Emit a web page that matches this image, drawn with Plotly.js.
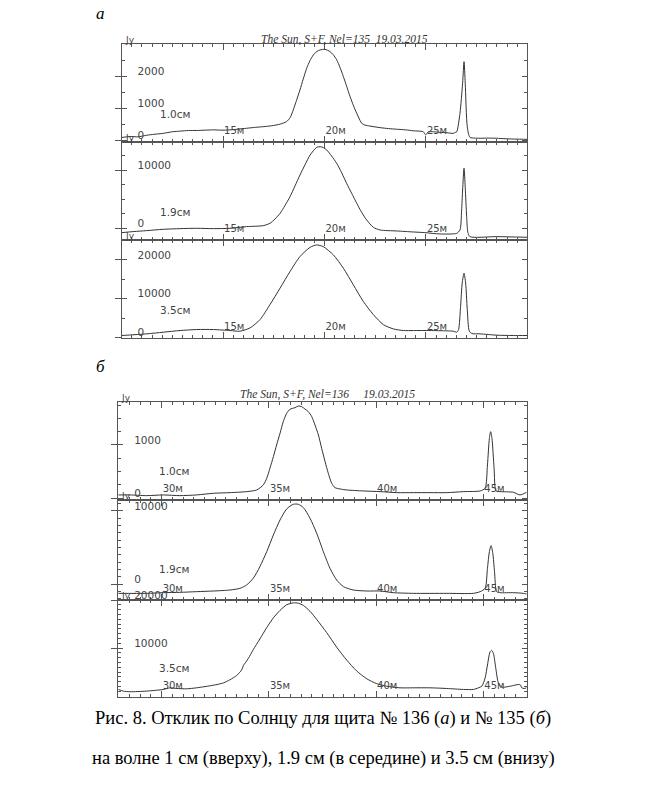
<!DOCTYPE html>
<html>
<head>
<meta charset="utf-8">
<script src="https://cdn.plot.ly/plotly-3.0.1.min.js"></script>
<style>html,body{margin:0;padding:0;background:#fff}</style>
</head>
<body>
<div id="graph" style="width:646px;height:796px"></div>
<script>
// time in minutes, flux in Jy
let TIME_A1 = [10.00,10.41,10.8,11.23,11.6,12.05,12.5,12.88,13.3,13.70,14.1,14.52,14.9,15.34,15.7,16.16,16.6,16.98,17.4,17.81,18.13,18.3,18.46,18.62,18.79,18.95,19.12,19.28,19.45,19.62,19.78,20.02,20.27,20.43,20.60,20.77,20.93,21.10,21.26,21.43,21.59,21.75,21.83,22.0,22.24,22.74,23.15,23.56,24.0,24.38,24.87,24.99,25.12,25.37,25.7,26.02,26.35,26.45,26.52,26.68,26.81,26.88,26.94,27.04,27.17,27.4,27.67,28.1,28.49,28.9,29.31,29.7,30.00]
let FLUX_A1 = [80,110,100,150,180,210,260,280,300,300,310,320,310,320,340,370,400,420,450,500,580,700,950,1250,1580,1920,2260,2500,2680,2790,2840,2860,2790,2690,2530,2280,2000,1680,1370,1080,840,620,530,470,440,390,360,340,320,290,260,160,260,260,240,230,210,240,260,840,1790,2470,1790,420,84,60,55,60,55,40,30,25,20]

let TIME_A2 = [10.00,10.6,11.23,12.05,12.88,13.70,14.52,15.34,16.16,16.98,17.31,17.56,17.81,18.05,18.30,18.55,18.79,19.04,19.29,19.61,19.78,19.94,20.11,20.35,20.60,20.85,21.09,21.34,21.59,21.83,22.08,22.41,22.74,23.56,24.38,24.95,25.69,26.52,26.68,26.76,26.81,26.88,26.94,27.01,27.07,27.17,28.49,30.00]
let FLUX_A2 = [-743,-560,-400,-171,-57,0,-57,0,286,457,857,1600,2571,3900,5429,7300,9143,10900,12571,13886,14000,13850,13429,12400,11143,9500,7714,6000,4286,2750,1429,171,-286,-457,-629,-743,-971,-857,-286,3000,6571,10286,7000,2000,-700,-1429,-1429,-1543]

let TIME_A3 = [10.00,11.23,12.05,12.88,13.70,14.52,15.34,15.83,16.33,16.82,17.31,17.81,18.30,18.79,19.29,19.61,19.94,20.44,20.93,21.42,21.91,22.41,22.90,23.39,23.89,24.38,25.20,26.02,26.35,26.52,26.61,26.71,26.79,26.88,26.96,27.04,27.14,27.26,27.67,28.49,29.31,30.00]
let FLUX_A3 = [513,940,1368,1795,2051,2051,1795,1624,2479,4615,8462,12735,17009,20855,23248,23846,23419,21282,17863,13590,9316,5897,3333,2222,1795,1795,1795,1709,1624,1368,2051,8034,14017,16581,14017,7179,1624,1026,940,598,513,513]

let TIME_B1 = [27.98,28.52,29.30,30.08,30.85,31.63,32.41,33.19,33.96,34.43,34.74,34.90,35.05,35.21,35.36,35.52,35.67,35.83,35.98,36.22,36.37,36.53,36.68,36.84,37.00,37.15,37.31,37.46,37.62,37.77,37.93,38.08,38.32,38.63,39.40,40.18,40.96,41.74,42.51,43.29,44.07,44.85,45.08,45.19,45.28,45.34,45.40,45.50,45.59,45.78,46.40,46.71,47.02]
let FLUX_B1 = [63,63,50,63,50,63,94,106,125,156,250,375,563,781,1000,1219,1438,1594,1669,1700,1731,1719,1675,1625,1531,1375,1188,938,688,469,281,200,175,156,138,125,106,106,106,106,125,138,188,625,1125,1250,1125,563,138,125,113,63,113]

let TIME_B2 = [27.98,29.30,30.08,30.85,31.63,32.41,33.19,33.65,33.96,34.27,34.58,34.90,35.21,35.52,35.83,36.14,36.37,36.61,36.92,37.23,37.54,37.85,38.16,38.48,38.94,39.56,40.18,40.80,41.74,43.29,44.53,44.85,45.08,45.19,45.28,45.36,45.44,45.52,45.62,45.78,46.40,46.87,47.02]
let FLUX_B2 = [-1279,-1279,-1187,-1142,-1050,-959,-822,-594,-137,776,2374,4429,6712,8767,10274,10913,10913,10457,8995,6941,4429,2146,548,-365,-822,-959,-959,-1187,-1279,-1279,-1279,-1050,-594,2146,4429,5251,4201,1689,-1050,-1187,-1187,-1279,-1370]

let TIME_B3 = [27.98,28.21,28.52,29.30,30.08,30.39,30.70,31.17,31.63,32.41,32.88,33.19,33.50,33.73,33.81,34.04,34.27,34.58,34.90,35.21,35.52,35.83,36.14,36.37,36.61,36.92,37.23,37.69,38.16,38.63,39.09,39.56,40.02,40.49,41.11,41.74,42.51,43.29,44.07,44.53,44.77,44.93,45.08,45.19,45.31,45.39,45.47,45.58,45.70,45.86,46.25,46.71,46.79,46.90,47.02]
let FLUX_B3 = [1407,1069,934,1069,1407,1746,1610,1543,1746,2287,2760,3437,4317,5467,6346,7835,9662,11894,14263,16292,17849,18999,19405,19337,18864,17645,15954,13248,10203,7497,5264,3640,2625,2084,1746,1746,1746,1610,1407,1407,1746,2084,3775,6481,9188,9526,8850,5805,2760,1880,2084,2422,1746,1610,1746]

let YTICKS = [[0, 1000, 2000], [0, 10000], [0, 10000, 20000], [0, 1000], [0, 10000], [10000, 20000]]
let XTICKS_A = [15, 20, 25]
let XTICKS_B = [30, 35, 40, 45]
let BANDS = ["1.0см", "1.9см", "3.5см", "1.0см", "1.9см", "3.5см"]
let TITLE_A = "The Sun, S+F, Nel=135\u00a0\u00a019.03.2015"
let TITLE_B = "The Sun, S+F, Nel=136\u00a0\u00a0\u00a0\u00a0\u00a019.03.2015"
let CAPTION_1 = "Рис. 8. Отклик по Солнцу для щита № 136 (<i>а</i>) и № 135 (<i>б</i>)"
let CAPTION_2 = "на волне 1 см (вверху), 1.9 см (в середине) и 3.5 см (внизу)"

let W = 646, H = 796
function fx(p) { return p / W }
function fy(p) { return 1 - p / H }

let INK = "#333"
let AXIS = "#555"

let PANELS = [
  {t: TIME_A1, f: FLUX_A1, x0: 121.7, x1: 527.3, top: 44, bottom: 142, yr: [-63, 3028], minor: 500, xr: [10, 30], xticks: XTICKS_A, band: [158, 114]},
  {t: TIME_A2, f: FLUX_A2, x0: 121.7, x1: 527.3, top: 142, bottom: 240, yr: [-2007, 14803], minor: 2500, xr: [10, 30], xticks: XTICKS_A, band: [158, 212]},
  {t: TIME_A3, f: FLUX_A3, x0: 121.7, x1: 527.3, top: 240, bottom: 338, yr: [-130, 25130], minor: 5000, xr: [10, 30], xticks: XTICKS_A, band: [158, 310]},
  {t: TIME_B1, f: FLUX_B1, x0: 118.3, x1: 526.7, top: 401.7, bottom: 500, yr: [-32, 1812], minor: 250, xr: [27.98, 47.02], xticks: XTICKS_B, band: [157, 471]},
  {t: TIME_B2, f: FLUX_B2, x0: 118.3, x1: 526.7, top: 500, bottom: 600, yr: [-2190, 11500], minor: 1000, xr: [27.98, 47.02], xticks: XTICKS_B, band: [157, 569]},
  {t: TIME_B3, f: FLUX_B3, x0: 118.3, x1: 526.7, top: 600, bottom: 697, yr: [-162, 20000], minor: 1000, xr: [27.98, 47.02], xticks: XTICKS_B, band: [157, 668]}
]

let data = []
let layout = {
  width: W, height: H,
  margin: {l: 0, r: 0, t: 0, b: 0},
  showlegend: false,
  paper_bgcolor: "white",
  plot_bgcolor: "white",
  font: {family: "DejaVu Sans", size: 10, color: "#444"},
  annotations: []
}

PANELS.forEach(function (p, i) {
  let n = i + 1
  let xa = n == 1 ? "x" : "x" + n
  let ya = n == 1 ? "y" : "y" + n
  let yo = "y" + (n + 6)
  data.push({
    x: p.t, y: p.f, xaxis: xa, yaxis: ya,
    type: "scatter", mode: "lines",
    line: {color: INK, width: 1, shape: "spline", smoothing: 0.7},
    hoverinfo: "skip"
  })
  // empty trace so the outside-tick overlay axis gets drawn
  data.push({x: [], y: [], xaxis: xa, yaxis: yo, type: "scatter", mode: "lines"})

  layout[n == 1 ? "xaxis" : "xaxis" + n] = {
    domain: [fx(p.x0), fx(p.x1)], anchor: ya, range: p.xr,
    tickmode: "array", tickvals: p.xticks,
    ticktext: p.xticks.map(function (v) { return v + "м" }),
    ticks: "inside", ticklen: 6, tickcolor: AXIS, mirror: "ticks",
    showline: true, linecolor: AXIS, linewidth: 1,
    showgrid: false, zeroline: false,
    // labels sit inside the box; pulled up from outside so they don't hide the y labels
    ticklabelposition: "outside right", ticklabelstandoff: -21,
    tickfont: {size: 10, color: "#444"},
    minor: {dtick: 0.5, tick0: 0, ticks: "inside", ticklen: 3, tickcolor: AXIS, showgrid: false}
  }
  layout[n == 1 ? "yaxis" : "yaxis" + n] = {
    domain: [fy(p.bottom), fy(p.top)], anchor: xa, range: p.yr,
    tickmode: "array", tickvals: YTICKS[i], tickformat: "d",
    ticks: "inside", ticklen: 5, tickcolor: AXIS, mirror: "ticks",
    showline: true, linecolor: AXIS, linewidth: 1,
    showgrid: false, zeroline: false,
    ticklabelposition: "inside", ticklabelstandoff: 10, ticklabelshift: -5,
    ticklabeloverflow: "allow",
    tickfont: {size: 10.5, color: "#444"},
    minor: {dtick: p.minor, tick0: 0, ticks: "inside", ticklen: 3, tickcolor: AXIS, showgrid: false}
  }
  layout["yaxis" + (n + 6)] = {
    overlaying: ya, anchor: xa, side: "left", range: p.yr,
    tickmode: "array", tickvals: YTICKS[i],
    ticks: "outside", ticklen: 6, tickcolor: AXIS,
    showticklabels: false, showline: false, showgrid: false, zeroline: false
  }

  layout.annotations.push({
    text: "Jy", xref: "paper", yref: "paper",
    x: fx(p.x0 + 1), y: fy(p.top - 4), xanchor: "left", yanchor: "middle",
    showarrow: false, font: {size: 9, color: "#444"}
  })
  layout.annotations.push({
    text: BANDS[i], xref: "paper", yref: "paper",
    x: fx(p.band[0]), y: fy(p.band[1]), xanchor: "left", yanchor: "middle",
    showarrow: false, font: {size: 10.5, color: "#444"}
  })
})

let serif = "Liberation Serif"
layout.annotations.push(
  {text: "<i>" + TITLE_A + "</i>", xref: "paper", yref: "paper", x: fx(344), y: fy(39),
   xanchor: "center", yanchor: "middle", showarrow: false, font: {family: serif, size: 11.5, color: "#333"}},
  {text: "<i>" + TITLE_B + "</i>", xref: "paper", yref: "paper", x: fx(327), y: fy(394),
   xanchor: "center", yanchor: "middle", showarrow: false, font: {family: serif, size: 11.5, color: "#333"}},
  {text: "<i>а</i>", xref: "paper", yref: "paper", x: fx(100), y: fy(13),
   xanchor: "center", yanchor: "middle", showarrow: false, font: {family: serif, size: 17, color: "#000"}},
  {text: "<i>б</i>", xref: "paper", yref: "paper", x: fx(100), y: fy(366),
   xanchor: "center", yanchor: "middle", showarrow: false, font: {family: serif, size: 17, color: "#000"}},
  {text: CAPTION_1, xref: "paper", yref: "paper", x: fx(323), y: fy(718),
   xanchor: "center", yanchor: "middle", showarrow: false, font: {family: serif, size: 18.5, color: "#000"}},
  {text: CAPTION_2, xref: "paper", yref: "paper", x: fx(323), y: fy(758),
   xanchor: "center", yanchor: "middle", showarrow: false, font: {family: serif, size: 18.5, color: "#000"}}
)

Plotly.newPlot("graph", data, layout, {staticPlot: true, displayModeBar: false})
</script>
</body>
</html>
